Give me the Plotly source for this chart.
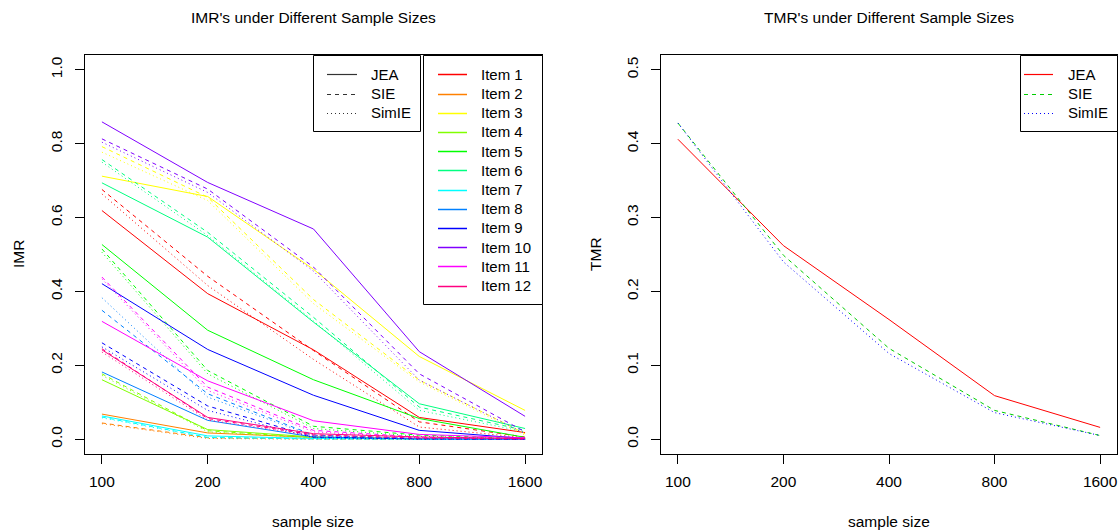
import numpy as np
import plotly.graph_objects as go

# ---------------- data ----------------
sizes = [100, 200, 400, 800, 1600]
size_labels = ["100", "200", "400", "800", "1600"]
items = ["Item %d" % i for i in range(1, 13)]
item_colors = ["#FF0000", "#FF8000", "#FFFF00", "#80FF00", "#00FF00", "#00FF80",
               "#00FFFF", "#0080FF", "#0000FF", "#8000FF", "#FF00FF", "#FF0080"]
methods = ["JEA", "SIE", "SimIE"]

imr_jea = [
    [0.619, 0.394, 0.242, 0.059, 0.018],
    [0.068, 0.017, 0.005, 0.001, 0.000],
    [0.712, 0.657, 0.460, 0.224, 0.078],
    [0.161, 0.026, 0.006, 0.001, 0.000],
    [0.527, 0.295, 0.161, 0.056, 0.005],
    [0.694, 0.547, 0.317, 0.096, 0.029],
    [0.063, 0.009, 0.002, 0.000, 0.000],
    [0.182, 0.051, 0.006, 0.001, 0.000],
    [0.421, 0.243, 0.119, 0.024, 0.002],
    [0.859, 0.695, 0.569, 0.237, 0.062],
    [0.319, 0.158, 0.050, 0.013, 0.004],
    [0.242, 0.059, 0.015, 0.006, 0.002],
]
imr_sie = [
    [0.676, 0.441, 0.240, 0.047, 0.006],
    [0.044, 0.004, 0.001, 0.000, 0.000],
    [0.792, 0.655, 0.378, 0.160, 0.015],
    [0.177, 0.023, 0.004, 0.001, 0.000],
    [0.515, 0.186, 0.035, 0.011, 0.002],
    [0.757, 0.560, 0.330, 0.087, 0.024],
    [0.060, 0.005, 0.001, 0.000, 0.000],
    [0.349, 0.123, 0.011, 0.002, 0.000],
    [0.261, 0.090, 0.006, 0.001, 0.000],
    [0.813, 0.677, 0.466, 0.177, 0.020],
    [0.439, 0.141, 0.024, 0.006, 0.001],
    [0.245, 0.056, 0.012, 0.003, 0.001],
]
imr_simie = [
    [0.664, 0.416, 0.216, 0.033, 0.004],
    [0.042, 0.002, 0.000, 0.000, 0.000],
    [0.777, 0.646, 0.367, 0.155, 0.011],
    [0.173, 0.020, 0.003, 0.000, 0.000],
    [0.506, 0.177, 0.029, 0.008, 0.001],
    [0.750, 0.551, 0.320, 0.078, 0.020],
    [0.058, 0.004, 0.000, 0.000, 0.000],
    [0.383, 0.114, 0.009, 0.001, 0.000],
    [0.250, 0.078, 0.004, 0.000, 0.000],
    [0.804, 0.668, 0.455, 0.160, 0.015],
    [0.434, 0.132, 0.020, 0.004, 0.001],
    [0.236, 0.052, 0.010, 0.002, 0.000],
]

tmr_jea = [0.406, 0.262, 0.162, 0.059, 0.016]
tmr_sie = [0.428, 0.249, 0.123, 0.039, 0.005]
tmr_simie = [0.428, 0.240, 0.116, 0.036, 0.005]
tmr_colors = ["#FF0000", "#00CD00", "#0000FF"]

imr_ticks = [0.0, 0.2, 0.4, 0.6, 0.8, 1.0]
tmr_ticks = [0.0, 0.1, 0.2, 0.3, 0.4, 0.5]

# ---------------- styling ----------------
W, H = 1119, 531
FONT = "Liberation Sans, Arial, Helvetica, sans-serif"
dashes = {"JEA": "solid", "SIE": "4px,4px", "SimIE": "1px,3px"}

def px_x(p):
    return p / W

def px_y(p):
    return 1 - p / H

fig = go.Figure()

imr_by_method = {"JEA": imr_jea, "SIE": imr_sie, "SimIE": imr_simie}
for i, name in enumerate(items):
    for m in methods:
        fig.add_trace(go.Scatter(
            x=sizes, y=imr_by_method[m][i], mode="lines",
            line=dict(color=item_colors[i], width=1, dash=dashes[m]),
            name=f"{name} {m}", showlegend=False, xaxis="x", yaxis="y",
            hoverinfo="skip"))

for m, vals, c in zip(methods, [tmr_jea, tmr_sie, tmr_simie], tmr_colors):
    fig.add_trace(go.Scatter(
        x=sizes, y=vals, mode="lines",
        line=dict(color=c, width=1, dash=dashes[m]),
        name=m, showlegend=False, xaxis="x2", yaxis="y2", hoverinfo="skip"))

lx = np.log10(sizes)
span = lx[-1] - lx[0]
xr = [lx[0] - 0.04 * span, lx[-1] + 0.04 * span]

def yr(lo, hi):
    s = hi - lo
    return [lo - 0.04 * s, hi + 0.04 * s]

ydom = [px_y(454), px_y(55)]
common_x = dict(type="log", range=xr, tickvals=sizes, ticktext=size_labels,
                showline=True, mirror=True, linecolor="black", linewidth=1,
                ticks="outside", ticklen=9, tickcolor="black", tickwidth=1,
                showgrid=False, zeroline=False, ticklabelstandoff=4,
                tickfont=dict(size=15.5, color="black", family=FONT))
common_y = dict(showline=True, mirror=True, linecolor="black", linewidth=1,
                ticks="outside", ticklen=9, tickcolor="black", tickwidth=1,
                showgrid=False, zeroline=False, tickangle=-90,
                ticklabelstandoff=7,
                tickfont=dict(size=15.5, color="black", family=FONT))

fig.update_layout(
    width=W, height=H, margin=dict(l=0, r=0, t=0, b=0),
    paper_bgcolor="white", plot_bgcolor="white", showlegend=False,
    font=dict(family=FONT, color="black"),
    xaxis=dict(domain=[px_x(85), px_x(542)], anchor="y", **common_x),
    yaxis=dict(domain=ydom, anchor="x", range=yr(0, 1), tickvals=imr_ticks,
               ticktext=["%.1f" % t for t in imr_ticks], **common_y),
    xaxis2=dict(domain=[px_x(661), px_x(1117)], anchor="y2", **common_x),
    yaxis2=dict(domain=ydom, anchor="x2", range=yr(0, 0.5), tickvals=tmr_ticks,
                ticktext=["%.1f" % t for t in tmr_ticks], **common_y),
)

ann = []
shapes = []

def text(x, y, s, size=15.5, xanchor="center", angle=0):
    ann.append(dict(x=px_x(x), y=px_y(y), xref="paper", yref="paper", text=s,
                    showarrow=False, xanchor=xanchor, yanchor="middle",
                    textangle=angle, font=dict(size=size, family=FONT, color="black")))

# titles and axis titles
text(313, 17, "IMR's under Different Sample Sizes")
text(889, 17, "TMR's under Different Sample Sizes")
text(313, 521, "sample size")
text(889, 521, "sample size")
text(18, 254, "IMR", angle=-90)
text(595, 254, "TMR", angle=-90)

def legend_box(x0, y0, x1, y1):
    shapes.append(dict(type="rect", xref="paper", yref="paper",
                       x0=px_x(x0), x1=px_x(x1), y0=px_y(y1), y1=px_y(y0),
                       line=dict(color="black", width=1), fillcolor="white"))

def legend_entry(xs0, xs1, xt, y, label, color, dash, width=1.5):
    yl = round(y) + 0.5
    shapes.append(dict(type="line", xref="paper", yref="paper",
                       x0=px_x(xs0), x1=px_x(xs1), y0=px_y(yl), y1=px_y(yl),
                       line=dict(color=color, width=width, dash=dash)))
    text(xt, y, label, size=15, xanchor="left")

row0, dy = 74.3, 19.2
# legend 1: methods (left panel)
legend_box(313.5, 55.5, 420.5, 131.5)
for k, m in enumerate(methods):
    legend_entry(327, 357, 369, row0 + k * dy, m, "#333333", dashes[m], 1.2)
# legend 2: items
legend_box(423.5, 55.5, 542.5, 304.5)
for k, (name, c) in enumerate(zip(items, item_colors)):
    legend_entry(438, 467, 479, row0 + k * dy, name, c, "solid")
# legend 3: right panel
legend_box(1020.5, 55.5, 1117.5, 131.5)
for k, (m, c) in enumerate(zip(methods, tmr_colors)):
    legend_entry(1024, 1053, 1066, row0 + k * dy, m, c, dashes[m], 1.2)

fig.update_layout(annotations=ann, shapes=shapes)
fig.write_html("out.html", config={"displayModeBar": False},
               post_script="document.body.style.margin='0';")
